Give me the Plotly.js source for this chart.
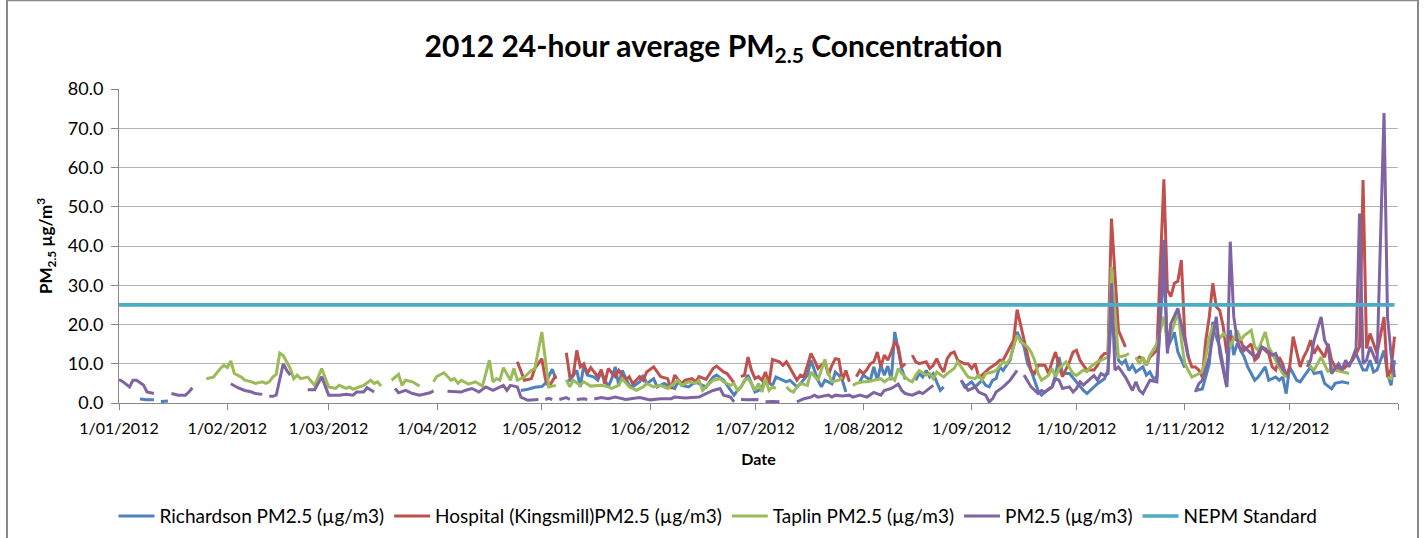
<!DOCTYPE html>
<html>
<head>
<meta charset="utf-8">
<script src="https://cdn.plot.ly/plotly-3.0.1.min.js"></script>
<style>
  html, body { margin: 0; padding: 0; background: #ffffff; }
  #chart { width: 1427px; height: 538px; }
</style>
</head>
<body>
<div id="chart"></div>
<script>
// Day-of-year offsets (0 = 1 Jan 2012) and daily values; null = missing day (gap)
const richardsonPM25 = [
  [6,1.0],[8,0.8],[10,0.8],[11,null],[12,0.4],[14,0.5],[15,null],
  [115,3.2],[117,3.5],[119,4.0],[121,4.2],[122,5.0],[124,8.6],[125,6.1],[126,null],
  [128,5.4],[129,5.8],[131,8.3],[132,4.1],[133,9.6],[134,7.1],[136,6.6],[137,5.8],[138,7.9],[139,5.8],[140,4.1],[141,6.2],[142,9.2],[143,4.5],[144,8.3],[146,4.5],[147,4.1],[149,5.4],[150,7.1],[151,5.0],[153,6.2],[154,4.1],[156,5.0],[157,4.5],[159,3.7],[160,5.4],[161,4.5],[163,4.1],[165,5.4],[166,4.9],[168,4.1],[170,6.6],[171,7.1],[173,5.8],[175,3.2],[176,2.0],[177,3.2],[178,4.1],[180,7.1],[181,4.9],[182,2.8],[183,3.2],[184,4.1],[185,5.8],[187,4.5],[188,6.6],[190,5.8],[191,5.4],[192,5.8],[194,4.1],[195,4.9],[197,7.1],[198,10.9],[200,5.8],[201,4.1],[202,5.8],[204,4.9],[205,7.9],[206,7.1],[207,5.8],[208,2.8],[209,null],
  [212,5.4],[213,7.1],[215,5.8],[216,9.2],[217,5.8],[218,9.6],[219,7.1],[220,9.4],[221,5.8],[222,18.1],[224,8.7],[225,6.0],[226,null],
  [228,5.8],[229,7.5],[230,6.6],[231,8.3],[232,6.6],[233,7.5],[235,3.2],[236,4.1],[237,null],
  [241,5.8],[242,4.1],[244,5.4],[245,4.1],[247,5.8],[248,4.5],[249,4.1],[250,5.8],[251,6.2],[252,9.2],[253,8.3],[255,10.9],[256,14.7],[257,18.1],[259,14.3],[260,10.0],[261,8.3],[262,5.8],[263,3.2],[264,2.0],[266,3.6],[267,4.1],[268,7.1],[269,11.7],[270,7.5],[272,7.5],[274,5.4],[275,4.1],[276,3.2],[277,2.4],[279,4.1],[280,4.9],[282,6.2],[283,8.3],[284,22.0],[286,10.9],[287,10.0],[288,10.9],[289,8.3],[290,9.6],[291,7.9],[293,9.2],[294,7.1],[295,7.9],[296,6.2],[297,6.6],[299,35.0],[300,14.0],[302,18.0],[303,13.0],[305,9.0],[306,null],
  [308,3.2],[310,3.6],[312,10.0],[313,20.7],[314,16.8],[315,14.3],[317,4.1],[318,18.6],[319,12.2],[320,15.2],[322,11.7],[323,9.2],[325,5.8],[326,6.6],[328,9.2],[329,5.8],[331,6.6],[332,5.8],[333,6.6],[334,2.4],[335,9.2],[337,5.8],[338,5.4],[339,6.6],[341,9.2],[342,7.5],[344,7.9],[345,5.0],[347,3.6],[348,5.0],[350,5.4],[352,5.0],[353,null],
  [354,12.6],[356,8.4],[357,8.4],[358,10.9],[359,7.9],[360,8.4],[362,13.4],[363,7.5],[364,4.5],[365,10.9]
];

const hospitalPM25 = [
  [114,10.5],[116,5.8],[118,6.2],[119,8.8],[121,11.3],[122,6.1],[123,4.1],[125,7.1],[126,null],
  [128,12.8],[129,6.7],[130,7.1],[131,13.4],[132,9.2],[133,10.0],[134,7.5],[135,9.0],[137,6.7],[138,8.5],[139,4.9],[140,8.8],[142,6.7],[143,8.3],[145,5.8],[146,6.7],[147,4.9],[149,6.7],[150,5.8],[151,7.9],[153,9.2],[155,6.7],[157,6.2],[158,3.6],[159,7.1],[161,4.9],[162,5.8],[164,6.2],[165,5.4],[166,6.7],[168,6.0],[169,7.5],[170,8.8],[171,9.4],[173,7.9],[174,7.5],[175,6.2],[176,5.1],[177,null],
  [178,6.7],[179,7.1],[180,11.7],[181,8.3],[182,6.2],[183,6.7],[184,5.8],[185,7.9],[186,4.9],[187,11.1],[189,10.5],[190,9.6],[191,10.5],[192,8.8],[193,7.1],[194,5.8],[195,7.1],[196,6.7],[197,9.6],[198,12.6],[199,10.9],[200,8.8],[202,10.5],[203,7.1],[204,9.6],[205,11.3],[206,11.1],[207,5.8],[208,8.3],[209,5.4],[210,null],
  [211,6.7],[212,8.3],[213,7.5],[214,8.5],[215,10.0],[216,10.5],[217,13.0],[218,9.2],[219,12.2],[220,10.9],[221,13.0],[222,15.6],[223,14.3],[224,9.2],[225,10.0],[226,null],
  [227,12.2],[228,10.5],[229,10.0],[231,10.5],[232,8.8],[233,9.6],[234,11.3],[235,9.2],[236,7.9],[237,11.3],[238,12.6],[239,13.0],[240,10.9],[242,10.0],[243,10.0],[244,8.8],[245,10.0],[246,6.7],[247,7.1],[248,7.9],[249,8.8],[251,10.0],[252,10.9],[253,10.9],[254,12.6],[256,16.0],[257,23.8],[259,16.4],[260,12.6],[261,8.3],[262,7.5],[263,9.6],[265,9.6],[266,7.5],[267,10.5],[268,13.0],[269,9.2],[270,6.7],[272,10.5],[273,13.0],[274,13.4],[275,10.9],[276,9.6],[277,8.4],[279,8.4],[280,9.6],[281,11.7],[282,12.6],[283,12.6],[284,47.0],[286,18.5],[287,16.4],[288,14.3],[289,null],
  [291,11.0],[292,11.7],[293,11.3],[294,9.6],[295,11.7],[297,13.4],[299,57.0],[300,28.8],[301,27.1],[302,30.5],[303,31.0],[304,36.4],[305,17.0],[306,11.7],[307,9.2],[308,9.2],[309,8.4],[310,6.6],[311,16.0],[312,22.0],[313,30.5],[314,24.5],[315,23.6],[316,19.4],[317,12.6],[318,16.8],[320,16.0],[321,16.0],[322,13.4],[324,15.1],[325,10.9],[326,11.7],[327,14.3],[329,12.6],[330,9.2],[331,8.4],[332,11.7],[333,10.0],[334,6.6],[335,9.2],[336,16.9],[337,12.6],[338,9.2],[339,11.7],[340,13.4],[341,16.0],[342,12.6],[343,14.3],[345,11.7],[346,15.1],[347,10.9],[348,9.2],[350,8.4],[351,9.2],[353,10.9],[354,12.6],[355,14.3],[356,56.8],[357,13.9],[358,17.7],[360,12.6],[362,21.9],[363,6.6],[364,8.4],[365,16.9]
];

const taplinPM25 = [
  [25,6.2],[27,6.6],[29,8.8],[30,9.6],[31,9.0],[32,10.7],[33,7.5],[35,6.6],[36,5.8],[38,5.4],[39,5.0],[41,5.4],[42,5.0],[43,5.4],[44,6.6],[45,7.3],[46,12.7],[47,12.1],[49,8.8],[50,6.2],[51,7.1],[52,6.2],[54,6.6],[56,4.5],[57,6.6],[58,8.8],[60,4.1],[62,3.7],[63,4.5],[65,3.7],[66,4.1],[67,3.5],[70,4.5],[72,5.8],[73,5.0],[74,5.4],[75,4.3],[76,null],
  [78,5.8],[80,7.3],[81,4.5],[82,5.8],[84,5.4],[86,4.3],[88,null],
  [90,5.4],[91,6.8],[93,7.7],[95,5.8],[96,6.2],[97,5.0],[98,5.8],[100,4.8],[102,5.4],[104,4.3],[106,10.9],[107,5.4],[108,6.2],[109,5.8],[110,9.0],[112,5.8],[113,8.8],[114,5.8],[116,6.6],[118,8.3],[119,8.8],[121,18.1],[123,4.1],[125,4.5],[126,null],
  [128,5.9],[129,4.1],[130,5.8],[132,4.5],[133,5.4],[135,4.3],[138,4.5],[140,4.1],[141,3.7],[143,4.5],[144,6.2],[146,4.1],[148,3.2],[150,4.1],[151,5.0],[153,4.1],[155,4.5],[157,3.7],[160,5.8],[161,4.5],[163,5.4],[165,5.0],[166,5.8],[167,3.2],[168,4.1],[169,5.0],[170,5.8],[172,6.2],[173,5.4],[175,4.5],[176,5.0],[177,3.2],[178,4.1],[179,5.8],[180,6.2],[181,5.0],[182,3.2],[183,5.0],[184,2.8],[185,6.2],[186,3.2],[187,4.1],[188,3.7],[189,null],
  [191,4.1],[192,3.2],[193,2.8],[194,4.1],[195,5.0],[197,4.5],[198,7.9],[200,5.8],[202,11.1],[203,7.5],[204,5.4],[206,5.8],[207,6.6],[208,null],
  [210,4.5],[211,5.0],[213,5.4],[214,5.4],[216,5.8],[218,6.2],[219,5.4],[221,6.6],[222,5.8],[223,8.8],[224,7.5],[225,6.6],[226,5.8],[227,5.4],[228,7.1],[229,8.3],[231,7.1],[232,7.5],[233,6.2],[234,7.9],[236,6.6],[237,7.5],[239,8.8],[240,10.5],[241,9.2],[242,7.9],[243,6.6],[245,6.2],[246,7.1],[247,5.8],[248,7.5],[250,7.9],[251,8.3],[253,10.5],[254,10.0],[255,11.3],[257,17.3],[258,15.6],[260,14.3],[261,13.0],[262,10.9],[263,7.5],[264,5.8],[266,7.1],[267,8.8],[268,6.6],[269,8.8],[271,10.5],[272,8.8],[273,7.5],[274,7.0],[276,8.4],[277,8.0],[278,9.2],[280,10.5],[281,10.9],[283,11.7],[284,34.7],[286,11.7],[288,12.1],[289,12.6],[290,null],
  [291,11.7],[292,10.0],[293,11.7],[294,9.6],[295,12.1],[297,15.1],[299,22.0],[300,15.0],[302,20.2],[303,23.6],[304,16.0],[305,10.0],[307,6.6],[308,7.1],[310,7.9],[311,11.7],[312,16.8],[313,19.4],[314,18.5],[315,16.4],[316,17.7],[317,16.8],[318,14.3],[320,18.5],[321,16.0],[322,17.2],[324,18.5],[325,14.3],[326,13.4],[328,18.1],[329,14.3],[330,12.6],[331,10.9],[333,7.5],[334,6.6],[335,null],
  [340,10.9],[341,9.2],[342,8.4],[344,11.7],[346,7.9],[347,9.2],[348,8.4],[350,7.9],[352,7.5],[353,null],
  [363,6.6],[364,6.2],[365,8.4]
];

const pm25 = [
  [0,6.0],[1,5.5],[3,4.1],[4,5.8],[5,5.8],[7,4.6],[8,2.8],[10,2.4],[11,null],
  [15,2.4],[17,2.0],[19,2.0],[20,2.8],[21,3.9],[22,null],
  [32,4.9],[33,4.3],[34,3.9],[36,3.2],[38,2.8],[39,2.4],[41,2.2],[42,null],[43,1.7],[44,1.7],[45,2.0],[46,5.8],[47,10.0],[48,8.3],[49,7.1],[50,null],
  [54,3.4],[56,3.4],[57,5.0],[58,6.7],[60,2.0],[61,2.0],[63,2.0],[65,2.2],[67,2.0],[68,2.8],[70,2.8],[71,3.9],[73,2.8],[74,null],
  [79,3.7],[80,2.6],[82,3.2],[84,2.4],[86,2.0],[89,2.6],[90,3.1],[91,null],
  [94,3.0],[98,2.8],[99,3.2],[101,3.7],[103,2.8],[105,4.1],[107,3.2],[109,4.1],[110,4.5],[111,3.2],[112,4.5],[114,4.1],[115,1.5],[117,0.7],[118,0.8],[120,0.9],[121,null],[122,0.9],[123,1.2],[124,0.9],[125,null],[126,0.9],[128,1.4],[129,0.9],[130,null],[131,0.9],[133,1.1],[134,0.9],[135,null],
  [136,1.0],[138,1.4],[140,1.1],[142,1.5],[145,0.9],[149,1.4],[152,0.8],[155,1.1],[158,1.1],[159,1.5],[162,1.3],[165,1.4],[166,1.5],[168,2.4],[170,3.2],[172,3.7],[173,2.0],[175,1.5],[176,0.3],[177,null],[178,0.9],[180,0.8],[182,0.9],[183,0.8],[184,null],[185,0.3],[187,0.4],[189,0.3],[190,null],
  [194,0.3],[196,1.1],[198,1.5],[199,2.0],[200,1.5],[203,2.0],[204,1.5],[205,2.0],[207,1.8],[209,2.0],[210,1.5],[212,2.0],[214,1.5],[216,2.7],[218,2.0],[219,3.2],[221,3.7],[223,4.8],[224,3.2],[225,2.4],[227,2.0],[229,2.8],[230,2.4],[232,3.7],[233,4.5],[234,null],
  [241,5.8],[242,4.5],[243,3.2],[245,4.1],[246,2.8],[248,2.0],[249,0.3],[250,1.1],[251,2.8],[253,4.1],[254,5.0],[255,5.8],[257,8.3],[258,null],[259,7.1],[260,5.4],[261,4.1],[263,2.4],[264,3.2],[265,2.8],[267,4.1],[268,6.2],[269,5.8],[270,3.7],[272,4.1],[273,2.8],[274,3.7],[275,5.4],[276,4.6],[278,6.2],[279,7.0],[280,5.8],[281,7.5],[282,7.0],[283,7.5],[284,30.5],[285,8.4],[286,9.2],[287,8.0],[288,6.6],[290,3.2],[291,5.4],[292,3.2],[293,2.4],[294,4.1],[295,5.8],[297,5.4],[299,41.5],[300,12.6],[301,20.2],[303,24.1],[304,20.2],[305,16.0],[306,11.7],[307,null],
  [308,2.8],[309,4.9],[310,5.8],[312,11.7],[313,16.8],[314,22.0],[315,12.6],[317,4.1],[318,41.1],[319,22.0],[320,16.0],[321,13.4],[322,14.3],[324,12.6],[325,11.7],[326,12.6],[327,14.3],[328,13.9],[330,12.2],[331,12.6],[332,10.0],[334,7.5],[335,null],
  [340,9.2],[341,10.9],[342,16.0],[344,21.9],[345,16.0],[346,14.3],[347,7.5],[349,10.0],[350,8.4],[351,10.9],[352,9.2],[354,13.9],[355,48.3],[356,10.0],[357,10.9],[358,14.3],[360,10.0],[362,73.9],[363,21.9],[364,12.6],[365,6.6]
];

const nepmStandard = [[0,25],[365,25]];

const seriesNames = ['Richardson PM2.5 (µg/m3)', 'Hospital (Kingsmill)PM2.5 (µg/m3)', 'Taplin PM2.5 (µg/m3)', 'PM2.5 (µg/m3)', 'NEPM Standard'];
const seriesColors = ['#4F81BD', '#C0504D', '#9BBB59', '#8064A2', '#4BACC6'];

const monthTickDays = [0,31,60,91,121,152,182,213,244,274,305,335,366];
const monthTickLabels = ['1/01/2012','1/02/2012','1/03/2012','1/04/2012','1/05/2012','1/06/2012','1/07/2012','1/08/2012','1/09/2012','1/10/2012','1/11/2012','1/12/2012',''];

function dayToDate(d) {
  return new Date(Date.UTC(2012, 0, 1) + d * 86400000).toISOString().slice(0, 10);
}

const allSeries = [richardsonPM25, hospitalPM25, taplinPM25, pm25, nepmStandard];
const traces = allSeries.map((s, i) => ({
  type: 'scatter',
  mode: 'lines',
  name: seriesNames[i],
  x: s.map(p => dayToDate(p[0])),
  y: s.map(p => p[1]),
  connectgaps: false,
  line: { color: seriesColors[i], width: i === 4 ? 3.6 : 3 },
  hoverinfo: 'x+y+name'
}));

const FONT = 'Lato, "Open Sans", "DejaVu Sans", sans-serif';

const layout = {
  width: 1427,
  height: 538,
  margin: { l: 119, r: 29, t: 89, b: 135, autoexpand: false },
  paper_bgcolor: '#ffffff',
  plot_bgcolor: '#ffffff',
  font: { family: FONT, size: 15, color: '#000000' },
  title: {
    text: '<b>2012 24-hour average PM<sub>2.5</sub> Concentration</b>',
    font: { family: FONT, size: 30, color: '#000000' },
    x: 0.5, xref: 'container', xanchor: 'center',
    y: 1 - 46 / 538, yref: 'container', yanchor: 'middle'
  },
  xaxis: {
    type: 'date',
    range: [dayToDate(0), dayToDate(366)],
    tickvals: monthTickDays.map(dayToDate),
    ticktext: monthTickLabels,
    ticks: 'outside',
    ticklen: 6,
    tickcolor: '#888888',
    ticklabelstandoff: 5,
    showline: true,
    linecolor: '#888888',
    linewidth: 1,
    showgrid: false,
    zeroline: false,
    tickfont: { family: FONT, size: 16, color: '#000000' },
    title: { text: '<b>Date</b>', font: { family: FONT, size: 16, color: '#000000' }, standoff: 17 },
    automargin: false,
    fixedrange: true
  },
  yaxis: {
    range: [0, 80],
    dtick: 10,
    tickformat: '.1f',
    ticks: 'outside',
    ticklen: 7,
    tickcolor: '#888888',
    ticklabelstandoff: 4,
    showline: true,
    linecolor: '#888888',
    linewidth: 1,
    showgrid: true,
    gridcolor: '#B3B3B3',
    gridwidth: 1,
    zeroline: false,
    tickfont: { family: FONT, size: 18, color: '#000000' },
    title: { text: '<b>PM<sub>2.5</sub> µg/m<sup>3</sup></b>', font: { family: FONT, size: 17, color: '#000000' }, standoff: 10 },
    automargin: false,
    fixedrange: true
  },
  showlegend: true,
  legend: {
    orientation: 'h',
    x: (718 - 119) / 1279,
    xanchor: 'center',
    y: (403 - 516) / 313.4,
    yanchor: 'middle',
    font: { family: FONT, size: 19, color: '#000000' },
    itemwidth: 36,
    bgcolor: 'rgba(0,0,0,0)'
  },
  shapes: [{
    type: 'rect', xref: 'paper', yref: 'paper',
    x0: (7 - 119) / 1279, x1: (1418 - 119) / 1279,
    y0: (403 - 545) / 313.4, y1: (403 - 1) / 313.4,
    line: { color: '#888888', width: 2 },
    fillcolor: 'rgba(0,0,0,0)'
  }]
};

Plotly.newPlot('chart', traces, layout, { displayModeBar: false, staticPlot: true });
</script>
</body>
</html>
